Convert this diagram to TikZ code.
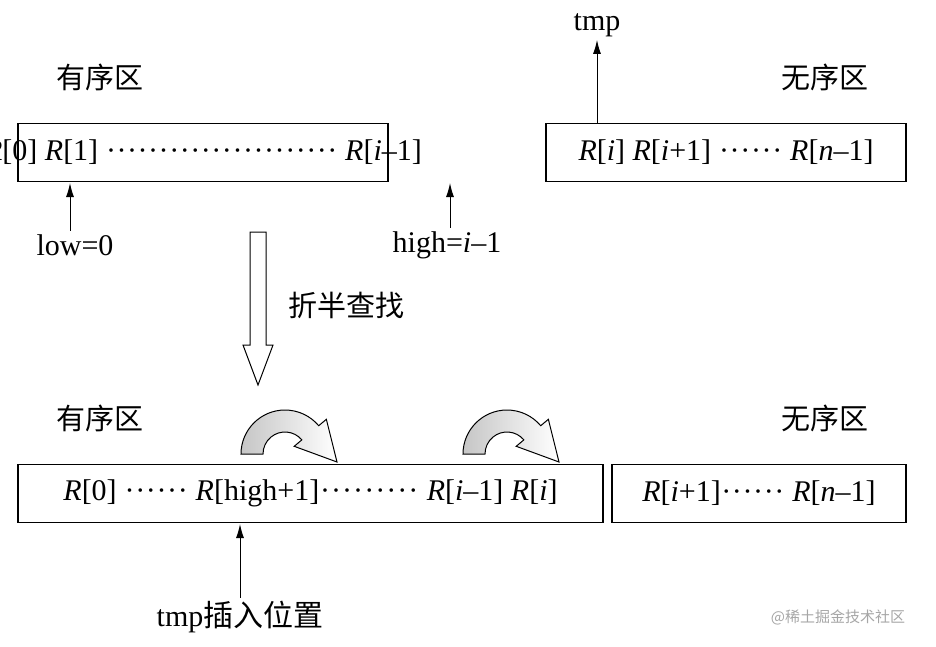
\documentclass[tikz,border=0pt]{standalone}
\usepackage{fontspec}
\usetikzlibrary{arrows.meta}
\setmainfont{Liberation Serif}
\newfontfamily\cjk{Noto Sans CJK SC}
\begin{document}
\begin{tikzpicture}[x=1pt,y=-1pt,
  box/.style={draw,line width=1.1pt,minimum height=58pt,inner sep=0pt},
  lbl/.style={font=\fontsize{30}{34}\selectfont},
  zh/.style={font=\cjk\fontsize{29}{34}\selectfont},
  arr/.style={-{Latex[length=14pt,width=8pt]},line width=1pt},
  curvearrow/.style={draw,line width=1pt,left color=gray!45,right color=white}]
\newcommand{\dts}[1]{\hbox to #1{\xleaders\hbox to 10.5pt{\hss\textperiodcentered\hss}\hfill}}
\useasboundingbox (0,0) rectangle (936,646);
% top
\node[zh] (z1) at (100,77) {有序区};
\node[zh] (z2) at (825,77) {无序区};
\node[box,minimum width=370pt] (b1) at (203,152.5) {};
\node[lbl] (t1) at (b1) {\textit{R}[0] \textit{R}[1] \dts{232pt} \textit{R}[\textit{i}–1]};
\node[box,minimum width=360pt] (b2) at (726,152.5) {};
\node[lbl] (t2) at (b2) {\textit{R}[\textit{i}] \textit{R}[\textit{i}+1] \dts{64pt} \textit{R}[\textit{n}–1]};
\node[lbl,anchor=base] (tmp) at (597,30) {tmp};
\coordinate (tb) at (597,123);
\draw[arr] (tb) -- (tmp.south);
\node[lbl] (low) at (75,245) {low=0};
\node[lbl] (high) at (447,245) {high=\textit{i}–1};
\draw[arr] (low.north -| 70,0) -- (70,183);
\draw[arr] (high.north -| 450,0) -- (450,183);
% big arrow
\draw[line width=1pt,fill=white] (250,232) -- (266,232) -- (266,345) -- (273,345) -- (258,385) -- (243,345) -- (250,345) -- cycle;
\node[zh,anchor=west] (bs) at (285,305) {折半查找};
% bottom
\node[zh] (z3) at (100,418) {有序区};
\node[zh] (z4) at (825,418) {无序区};
\node[box,minimum width=585pt] (b3) at (310.5,493.5) {};
\node[lbl] (t3) at (b3) {\textit{R}[0] \dts{64pt} \textit{R}[high+1]\dts{100pt} \textit{R}[\textit{i}–1] \textit{R}[\textit{i}]};
\node[box,minimum width=294pt] (b4) at (759,493.5) {};
\node[lbl] (t4) at (b4) {\textit{R}[\textit{i}+1]\dts{64pt} \textit{R}[\textit{n}–1]};
\foreach \cx in {285,507}{
\begin{scope}[shift={(\cx,454)},yscale=-1]
\path[curvearrow] (180:44) arc[start angle=180,end angle=40,radius=44] -- (40:54) -- (52,-8) -- (40:12) -- (40:22) arc[start angle=40,end angle=180,radius=22] -- cycle;
\end{scope}}
\node[lbl] (ins) at (240,617) {tmp\cjk 插入位置};
\draw[arr] (ins.north -| 240,0) -- (240,524);
\node[font=\cjk\fontsize{15}{18}\selectfont,text=gray!70] (wm) at (838,617) {@稀土掘金技术社区};
\end{tikzpicture}
\end{document}
